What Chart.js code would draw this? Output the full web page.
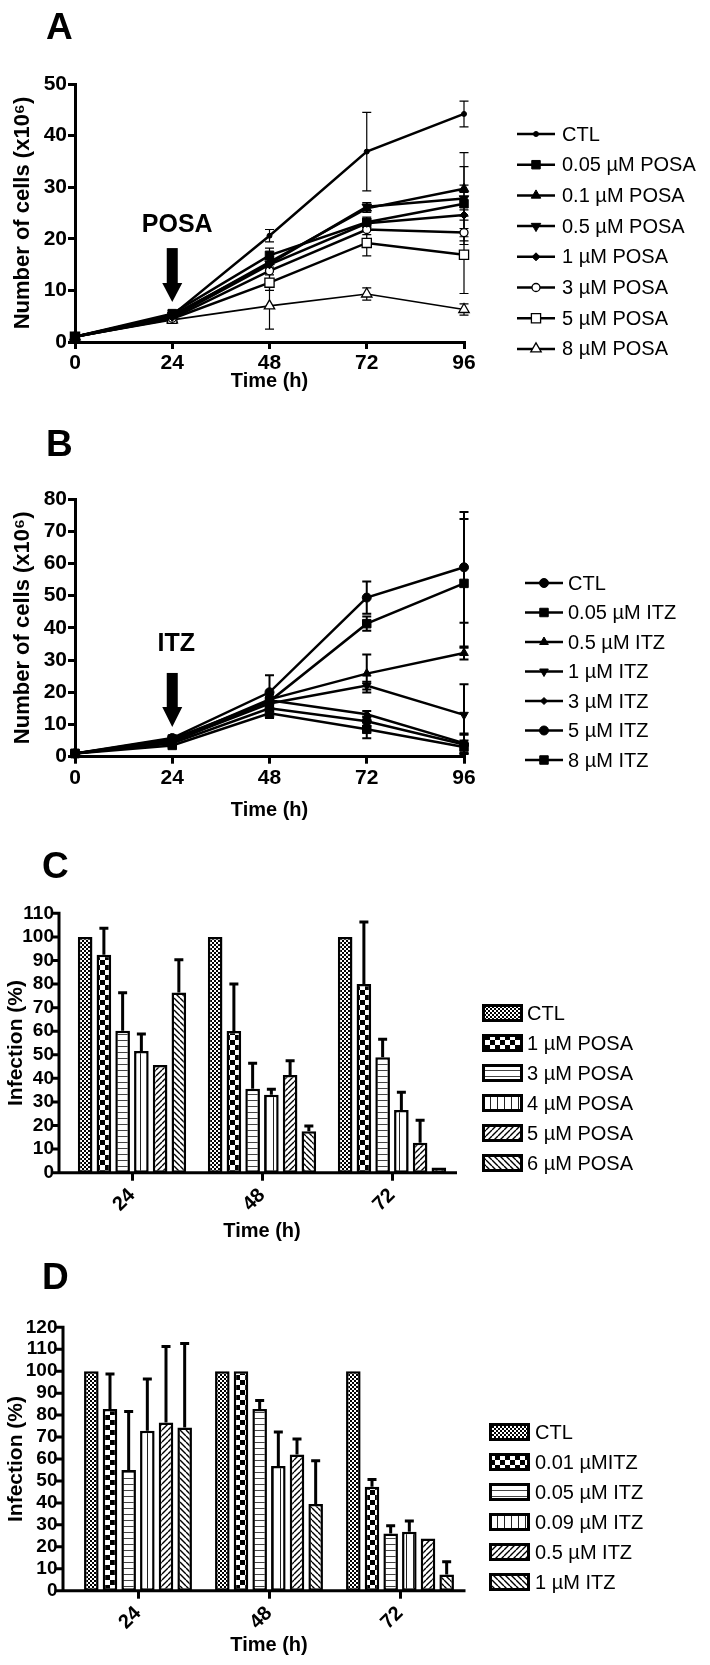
<!DOCTYPE html>
<html lang="en">
<head>
<meta charset="UTF-8">
<title>Growth and infection, POSA / ITZ</title>
<script src="https://cdn.jsdelivr.net/npm/chart.js"></script>
<style>
  body { margin: 0; background: #fff; }
  #page { position: relative; width: 710px; height: 1665px; overflow: hidden; background: #fff; }
  #page canvas { position: absolute; left: 0; }
  .letter { position: absolute; font: bold 37px "Liberation Sans", Arial, sans-serif; line-height: 37px; color: #000; }
</style>
</head>
<body>
<div id="page">
  <canvas id="chartA" width="710" height="410" style="top:0px"></canvas>
  <canvas id="chartB" width="710" height="410" style="top:420px"></canvas>
  <canvas id="chartC" width="710" height="420" style="top:830px"></canvas>
  <canvas id="chartD" width="710" height="415" style="top:1250px"></canvas>
  <div class="letter" style="left:46px;top:8px">A</div>
  <div class="letter" style="left:46px;top:425px">B</div>
  <div class="letter" style="left:42px;top:847px">C</div>
  <div class="letter" style="left:42px;top:1258px">D</div>
</div>
<script>
// ---- data ----
const hours = [0, 24, 48, 72, 96];

// A: cells (x10^6) with POSA
const posaNames = ['CTL', '0.05 µM POSA', '0.1 µM POSA', '0.5 µM POSA', '1 µM POSA', '3 µM POSA', '5 µM POSA', '8 µM POSA'];
const posaCtl = [1, 5.2, 20.6, 36.9, 44.2];
const posa005 = [1, 5.5, 16.8, 23.2, 26.8];
const posa01  = [1, 5.0, 15.5, 25.9, 29.7];
const posa05  = [1, 5.2, 15.2, 26.2, 27.8];
const posa1   = [1, 4.8, 15.0, 23.0, 24.6];
const posa3   = [1, 4.6, 13.8, 21.8, 21.2];
const posa5   = [1, 4.5, 11.5, 19.2, 16.9];
const posa8   = [1, 4.3, 7.0, 9.3, 6.3];
const posaCtlSd = [0.2, 0.4, 1.2, 7.6, 2.5];
const posa005Sd = [0.2, 0.6, 1.4, 1.0, 7.2];
const posa01Sd  = [0.2, 0.4, 1.0, 0.8, 0.7];
const posa05Sd  = [0.2, 0.4, 1.0, 0.8, 8.9];
const posa1Sd   = [0.2, 0.4, 1.0, 0.8, 1.0];
const posa3Sd   = [0.2, 0.4, 1.5, 1.0, 0.8];
const posa5Sd   = [0.2, 0.4, 1.5, 2.5, 7.5];
const posa8Sd   = [0.2, 0.4, 4.5, 1.2, 1.1];

// B: cells (x10^6) with ITZ
const itzNames = ['CTL', '0.05 µM ITZ', '0.5 µM ITZ', '1 µM ITZ', '3 µM ITZ', '5 µM ITZ', '8 µM ITZ'];
const itzCtl = [1, 5.8, 20.0, 49.4, 58.8];
const itz005 = [1, 5.5, 17.2, 41.3, 53.8];
const itz05  = [1, 5.0, 17.8, 25.8, 32.2];
const itz1   = [1, 4.8, 16.5, 22.1, 13.0];
const itz3   = [1, 4.5, 17.5, 13.2, 4.2];
const itz5   = [1, 4.2, 15.0, 11.0, 3.8];
const itz8   = [1, 3.5, 13.5, 8.5, 3.0];
const itzCtlSd = [0.2, 0.5, 5.3, 5.0, 17.2];
const itz005Sd = [0.2, 0.5, 1.5, 2.2, 20.0];
const itz05Sd  = [0.2, 0.5, 1.5, 5.9, 2.0];
const itz1Sd   = [0.2, 0.5, 1.5, 1.2, 9.5];
const itz3Sd   = [0.2, 0.5, 1.0, 1.0, 3.0];
const itz5Sd   = [0.2, 0.5, 1.0, 1.5, 3.0];
const itz8Sd   = [0.2, 0.5, 1.5, 2.8, 2.0];

// C: infection (%) with POSA
const timeLabels = ['24', '48', '72'];
const infPosaNames = ['CTL', '1 µM POSA', '3 µM POSA', '4 µM POSA', '5 µM POSA', '6 µM POSA'];
const infPosaCtl = [100, 100, 100];
const infPosa1 = [92.4, 60.1, 80.0];
const infPosa3 = [60.2, 35.6, 49.0];
const infPosa4 = [51.6, 33.1, 26.6];
const infPosa5 = [45.7, 41.4, 12.7];
const infPosa6 = [76.4, 17.6, 2.2];
const infPosa1Sd = [11.3, 19.9, 26.3];
const infPosa3Sd = [16.1, 10.8, 7.6];
const infPosa4Sd = [7.2, 2.3, 7.5];
const infPosa5Sd = [0, 6.1, 9.5];
const infPosa6Sd = [13.9, 2.2, 0];

// D: infection (%) with ITZ
const infItzNames = ['CTL', '0.01 µMITZ', '0.05 µM ITZ', '0.09 µM ITZ', '0.5 µM ITZ', '1 µM ITZ'];
const infItzCtl = [100, 100, 100];
const infItz001 = [82.8, 100, 47.4];
const infItz005 = [55.0, 82.8, 26.1];
const infItz009 = [72.9, 56.8, 26.9];
const infItz05  = [76.6, 62.1, 23.8];
const infItz1   = [74.3, 39.5, 7.4];
const infItz001Sd = [15.9, 0, 3.3];
const infItz005Sd = [26.6, 3.8, 3.5];
const infItz009Sd = [23.5, 15.5, 4.8];
const infItz05Sd  = [34.6, 7.0, 0];
const infItz1Sd   = [38.3, 19.7, 5.8];

// ---- drawing helpers ----
Chart.defaults.font.family = '"Liberation Sans", Arial, sans-serif';
Chart.defaults.color = '#000';

function pts(vals) {
  return hours.map((h, i) => ({x: h, y: vals[i]}));
}

function pattern(kind) {
  const c = document.createElement('canvas');
  const g = c.getContext('2d');
  let s = 6;
  if (kind === 'fine') s = 4;
  if (kind === 'checker') s = 10;
  if (kind === 'vlines') s = 7;
  c.width = s; c.height = s;
  g.fillStyle = '#fff';
  g.fillRect(0, 0, s, s);
  g.fillStyle = '#000';
  g.strokeStyle = '#000';
  if (kind === 'fine') { g.fillRect(0, 0, 2, 2); g.fillRect(2, 2, 2, 2); }
  if (kind === 'checker') { g.fillRect(0, 0, 5, 5); g.fillRect(5, 5, 5, 5); }
  if (kind === 'hlines') { g.fillStyle = '#444'; g.fillRect(0, 0, s, 1); }
  if (kind === 'vlines') { g.fillStyle = '#222'; g.fillRect(0, 0, 1, s); }
  if (kind === 'diagUp' || kind === 'diagDown') {
    g.lineWidth = 1.4;
    g.beginPath();
    for (let k = -1; k <= 1; k++) {
      if (kind === 'diagUp') { g.moveTo(k * s, s); g.lineTo(k * s + s, 0); }
      else { g.moveTo(k * s, 0); g.lineTo(k * s + s, s); }
    }
    g.stroke();
  }
  return g.createPattern(c, 'repeat');
}

function valueOf(d) {
  return typeof d === 'object' ? d.y : d;
}

function drawErrors(chart, o) {
  const ctx = chart.ctx;
  const ys = chart.scales.y;
  ctx.save();
  ctx.strokeStyle = '#000';
  ctx.lineWidth = o.errWidth;
  chart.data.datasets.forEach((ds, i) => {
    if (!ds.errors) return;
    const meta = chart.getDatasetMeta(i);
    meta.data.forEach((el, j) => {
      const e = ds.errors[j];
      if (!e) return;
      const v = valueOf(ds.data[j]);
      const x = el.x;
      const top = ys.getPixelForValue(v + e);
      const bot = o.errorMode === 'up' ? ys.getPixelForValue(v) : ys.getPixelForValue(v - e);
      ctx.beginPath();
      ctx.moveTo(x, top);
      ctx.lineTo(x, bot);
      ctx.moveTo(x - o.cap, top);
      ctx.lineTo(x + o.cap, top);
      if (o.errorMode !== 'up') {
        ctx.moveTo(x - o.cap, bot);
        ctx.lineTo(x + o.cap, bot);
      }
      ctx.stroke();
    });
  });
  ctx.restore();
}

function drawBarAxes(chart, o) {
  const {ctx, chartArea} = chart;
  const ys = chart.scales.y;
  const x0 = chartArea.left - o.axisGap;
  const yb = ys.getPixelForValue(0);
  const yt = ys.getPixelForValue(ys.max);
  ctx.save();
  ctx.strokeStyle = '#000';
  ctx.lineWidth = 3;
  ctx.beginPath();
  ctx.moveTo(x0, yt - 1.5);
  ctx.lineTo(x0, yb + 1.5);
  ctx.moveTo(x0 - 1.5, yb);
  ctx.lineTo(chartArea.right, yb);
  ys.ticks.forEach(t => {
    const y = ys.getPixelForValue(t.value);
    ctx.moveTo(x0 - 7, y);
    ctx.lineTo(x0, y);
  });
  ctx.stroke();
  ctx.restore();
}

function drawArrow(chart, a) {
  const ctx = chart.ctx;
  const x = chart.scales.x.getPixelForValue(a.x);
  const ys = chart.scales.y;
  const top = ys.getPixelForValue(a.from);
  const tip = ys.getPixelForValue(a.to);
  const neck = tip - a.head;
  ctx.save();
  ctx.fillStyle = '#000';
  ctx.fillRect(x - a.shaft / 2, top, a.shaft, neck - top + 1);
  ctx.beginPath();
  ctx.moveTo(x - a.headW / 2, neck);
  ctx.lineTo(x + a.headW / 2, neck);
  ctx.lineTo(x, tip);
  ctx.closePath();
  ctx.fill();
  ctx.font = 'bold 25px "Liberation Sans", Arial, sans-serif';
  ctx.textAlign = 'center';
  ctx.textBaseline = 'middle';
  ctx.fillText(a.text, x + a.dx, ys.getPixelForValue(a.labelAt));
  ctx.restore();
}

function drawLineLegend(chart, L) {
  const ctx = chart.ctx;
  ctx.save();
  chart.data.datasets.forEach((ds, i) => {
    const y = L.y + L.step * i;
    ctx.strokeStyle = '#000';
    ctx.lineWidth = 2.5;
    ctx.beginPath();
    ctx.moveTo(L.x1, y);
    ctx.lineTo(L.x2, y);
    ctx.stroke();
    ctx.fillStyle = ds.pointBackgroundColor;
    ctx.strokeStyle = '#000';
    ctx.lineWidth = ds.pointBorderWidth;
    Chart.helpers.drawPoint(ctx, {
      pointStyle: ds.pointStyle,
      rotation: ds.pointRotation || 0,
      radius: ds.pointRadius,
      borderWidth: ds.pointBorderWidth
    }, (L.x1 + L.x2) / 2, y);
    ctx.fillStyle = '#000';
    ctx.font = '20px "Liberation Sans", Arial, sans-serif';
    ctx.textAlign = 'left';
    ctx.textBaseline = 'middle';
    ctx.fillText(ds.label, L.tx, y + 1);
  });
  ctx.restore();
}

function drawBoxLegend(chart, L) {
  const ctx = chart.ctx;
  ctx.save();
  chart.data.datasets.forEach((ds, i) => {
    const y = L.y + L.step * i;
    ctx.fillStyle = ds.backgroundColor;
    ctx.fillRect(L.x, y - 9, 41, 18);
    ctx.strokeStyle = '#000';
    ctx.lineWidth = 3;
    ctx.strokeRect(L.x + 1.5, y - 7.5, 38, 15);
    ctx.fillStyle = '#000';
    ctx.font = '20px "Liberation Sans", Arial, sans-serif';
    ctx.textAlign = 'left';
    ctx.textBaseline = 'middle';
    ctx.fillText(ds.label, L.tx, y + 1);
  });
  ctx.restore();
}

const extras = {
  id: 'extras',
  beforeDatasetsDraw(chart, args, o) {
    if (o.axisGap != null) drawBarAxes(chart, o);
    if (o.errorMode === 'both') drawErrors(chart, o);
  },
  afterDatasetsDraw(chart, args, o) {
    if (o.errorMode === 'up') drawErrors(chart, o);
    if (o.arrow) drawArrow(chart, o.arrow);
    if (o.lineLegend) drawLineLegend(chart, o.lineLegend);
    if (o.boxLegend) drawBoxLegend(chart, o.boxLegend);
  }
};

const lineTickFont = {size: 21, weight: 'bold'};
const barTickFont = {size: 19, weight: 'bold'};

function lineChart(id, names, series, sds, marks, yMax, box, ext) {
  const datasets = series.map((vals, i) => ({
    label: names[i],
    data: pts(vals),
    errors: sds[i],
    borderColor: '#000',
    borderWidth: marks[i].lw || 2.5,
    pointStyle: marks[i].style,
    pointRadius: marks[i].r,
    pointRotation: marks[i].rot || 0,
    pointBackgroundColor: marks[i].open ? '#fff' : '#000',
    pointBorderColor: '#000',
    pointBorderWidth: marks[i].open ? 1.3 : 1,
    tension: 0,
    clip: false
  }));
  return new Chart(document.getElementById(id), {
    type: 'line',
    data: {datasets},
    options: {
      responsive: false,
      animation: false,
      events: [],
      layout: {padding: {left: 0, top: box.top, right: 710 - box.right, bottom: 0}},
      plugins: {legend: {display: false}, tooltip: {enabled: false}, extras: ext},
      scales: {
        x: {
          type: 'linear', min: 0, max: 96,
          afterFit: s => { s.height = box.h - box.bottom; },
          ticks: {stepSize: 24, font: lineTickFont, padding: 2, autoSkip: false},
          grid: {drawOnChartArea: false, drawTicks: true, tickLength: 7, color: '#000', lineWidth: 3},
          border: {color: '#000', width: 3},
          title: {display: true, text: 'Time (h)', font: {size: 20, weight: 'bold'}, padding: {top: 0, bottom: box.xt}}
        },
        y: {
          min: 0, max: yMax,
          afterFit: s => { s.width = box.left; },
          ticks: {stepSize: 10, font: lineTickFont, padding: 1, autoSkip: false},
          grid: {drawOnChartArea: false, drawTicks: true, tickLength: 7, color: '#000', lineWidth: 3},
          border: {color: '#000', width: 3},
          title: {display: true, text: 'Number of cells (x10⁶)', font: {size: 22, weight: 'bold'}, padding: {top: 10, bottom: 0}}
        }
      }
    },
    plugins: [extras]
  });
}

function barChart(id, names, series, sds, fills, yMax, box, ext) {
  const datasets = series.map((vals, i) => ({
    label: names[i],
    data: vals,
    errors: sds[i],
    backgroundColor: pattern(fills[i]),
    borderColor: '#000',
    borderWidth: 2.5,
    borderSkipped: false,
    categoryPercentage: box.cat,
    barPercentage: 0.78
  }));
  return new Chart(document.getElementById(id), {
    type: 'bar',
    data: {labels: timeLabels, datasets},
    options: {
      responsive: false,
      animation: false,
      events: [],
      layout: {padding: {left: 0, top: box.top, right: 710 - box.right, bottom: 0}},
      plugins: {legend: {display: false}, tooltip: {enabled: false}, extras: ext},
      scales: {
        x: {
          afterFit: s => { s.height = box.h - box.bottom; },
          ticks: {font: {size: 20, weight: 'bold'}, minRotation: 45, maxRotation: 45, padding: 3},
          grid: {offset: false, drawOnChartArea: false, drawTicks: true, tickLength: 8, color: '#000', lineWidth: 3},
          border: {display: false},
          title: {display: true, text: 'Time (h)', font: {size: 20, weight: 'bold'}, padding: {top: 0, bottom: box.xt}}
        },
        y: {
          min: 0, max: yMax,
          afterFit: s => { s.width = box.left; },
          ticks: {stepSize: 10, font: barTickFont, padding: box.tp, autoSkip: false},
          grid: {display: false, drawTicks: false},
          border: {display: false},
          title: {display: true, text: 'Infection (%)', font: {size: 21, weight: 'bold'}, padding: {top: 4, bottom: 0}}
        }
      }
    },
    plugins: [extras]
  });
}

// ---- panel A ----
lineChart('chartA', posaNames,
  [posaCtl, posa005, posa01, posa05, posa1, posa3, posa5, posa8],
  [posaCtlSd, posa005Sd, posa01Sd, posa05Sd, posa1Sd, posa3Sd, posa5Sd, posa8Sd],
  [
    {style: 'circle', r: 2.5},
    {style: 'rect', r: 6},
    {style: 'triangle', r: 5.5},
    {style: 'triangle', r: 5.5, rot: 180},
    {style: 'rectRot', r: 4},
    {style: 'circle', r: 4, open: true},
    {style: 'rect', r: 6.5, open: true},
    {style: 'triangle', r: 6, open: true, lw: 1.7}
  ],
  50,
  {left: 75, right: 464, top: 84, bottom: 342, h: 410, xt: 17},
  {errorMode: 'both', errWidth: 1.2, cap: 4.5,
   arrow: {x: 24, from: 18.2, to: 7.75, head: 19, shaft: 11, headW: 20, text: 'POSA', dx: 5, labelAt: 22.7},
   lineLegend: {x1: 517, x2: 555, tx: 562, y: 134, step: 30.7}});

// ---- panel B ----
lineChart('chartB', itzNames,
  [itzCtl, itz005, itz05, itz1, itz3, itz5, itz8],
  [itzCtlSd, itz005Sd, itz05Sd, itz1Sd, itz3Sd, itz5Sd, itz8Sd],
  [
    {style: 'circle', r: 4.5},
    {style: 'rect', r: 6},
    {style: 'triangle', r: 5},
    {style: 'triangle', r: 5, rot: 180},
    {style: 'rectRot', r: 3.5},
    {style: 'circle', r: 4.5},
    {style: 'rect', r: 6}
  ],
  80,
  {left: 75, right: 464, top: 79, bottom: 336.7, h: 410, xt: 8},
  {errorMode: 'both', errWidth: 2, cap: 4.5,
   arrow: {x: 24, from: 26, to: 9.2, head: 20, shaft: 11, headW: 20, text: 'ITZ', dx: 4, labelAt: 35},
   lineLegend: {x1: 525, x2: 563, tx: 568, y: 163, step: 29.5}});

// ---- panel C ----
barChart('chartC', infPosaNames,
  [infPosaCtl, infPosa1, infPosa3, infPosa4, infPosa5, infPosa6],
  [null, infPosa1Sd, infPosa3Sd, infPosa4Sd, infPosa5Sd, infPosa6Sd],
  ['fine', 'checker', 'hlines', 'vlines', 'diagUp', 'diagDown'],
  110,
  {left: 67, right: 457, top: 83.3, bottom: 342.7, h: 420, xt: 7, cat: 0.865, tp: 13},
  {errorMode: 'up', errWidth: 3, cap: 4.5, axisGap: 8,
   boxLegend: {x: 482, tx: 527, y: 183, step: 30}});

// ---- panel D ----
barChart('chartD', infItzNames,
  [infItzCtl, infItz001, infItz005, infItz009, infItz05, infItz1],
  [null, infItz001Sd, infItz005Sd, infItz009Sd, infItz05Sd, infItz1Sd],
  ['fine', 'checker', 'hlines', 'vlines', 'diagUp', 'diagDown'],
  120,
  {left: 72.5, right: 465.5, top: 77.3, bottom: 340.7, h: 415, xt: 8, cat: 0.855, tp: 15},
  {errorMode: 'up', errWidth: 3, cap: 4.5, axisGap: 9.5,
   boxLegend: {x: 489, tx: 535, y: 182, step: 30}});
</script>
</body>
</html>
